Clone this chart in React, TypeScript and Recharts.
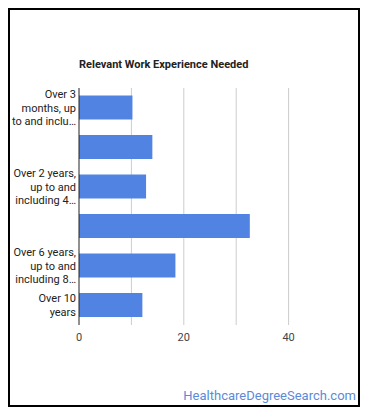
import React from "react";
import { BarChart, Bar, XAxis, YAxis, CartesianGrid } from "recharts";

const categories = [
  "Over 3 months, up to and including 6 months",
  "Over 1 year, up to and including 2 years",
  "Over 2 years, up to and including 4 years",
  "Over 4 years, up to and including 6 years",
  "Over 6 years, up to and including 8 years",
  "Over 10 years",
];
const values = [10.2, 14.0, 12.8, 32.6, 18.4, 12.1];
const tickLines: string[][] = [
  ["Over 3", "months, up", "to and inclu…"],
  [],
  ["Over 2 years,", "up to and", "including 4…"],
  [],
  ["Over 6 years,", "up to and", "including 8…"],
  ["Over 10", "years"],
];
const xTicks = [0, 10, 20, 30, 40];
const xMax = 50;
const gridValues = [10, 20, 30, 40];
const xTickLabels: Record<number, string> = { 0: "0", 20: "20", 40: "40" };
const title = "Relevant Work Experience Needed";
const watermark = "HealthcareDegreeSearch.com";

const data = categories.map((c, i) => ({ name: c, value: values[i], idx: i }));

const FONT = "Roboto, 'Noto Sans', Arial, sans-serif";

const YTick = (props: any) => {
  const { x, y, index } = props;
  const lines = tickLines[index] || [];
  const lh = 13.7;
  const start = y - ((lines.length - 1) * lh) / 2;
  return (
    <g>
      {lines.map((l, i) => (
        <text
          key={i}
          x={x - 1}
          y={start + i * lh}
          dy="0.35em"
          textAnchor="end"
          fontSize={11}
          fontFamily={FONT}
          fill="#222"
        >
          {l}
        </text>
      ))}
    </g>
  );
};

const gridGen = (p: any) => {
  const sc = p?.xAxis?.scale;
  if (typeof sc === "function") return gridValues.map((v) => sc(v));
  const off = p?.offset || {};
  const left = off.left ?? 69;
  const w = off.width ?? 262;
  return gridValues.map((v) => left + (v / xMax) * w);
};

export default function App() {
  return (
    <div
      style={{
        position: "relative",
        width: 352,
        height: 399,
        boxSizing: "border-box",
        border: "2px solid #000",
        background: "#fff",
      }}
    >
      <div
        style={{
          position: "absolute",
          left: 69,
          top: 48,
          fontFamily: FONT,
          fontWeight: "bold",
          fontSize: 11,
          color: "#222",
          whiteSpace: "nowrap",
          lineHeight: "14px",
        }}
      >
        {title}
      </div>
      <div style={{ position: "absolute", left: 0, top: 0 }}>
        <BarChart
          width={348}
          height={395}
          data={data}
          layout="vertical"
          margin={{ top: 78, right: 17, bottom: 50, left: 0 }}
          barCategoryGap="19%"
        >
          <CartesianGrid
            horizontal={false}
            stroke="#ccc"
            verticalCoordinatesGenerator={gridGen}
          />
          <XAxis
            type="number"
            domain={[0, xMax]}
            ticks={xTicks}
            tickFormatter={(v: number) => xTickLabels[v] ?? ""}
            axisLine={false}
            tickLine={false}
            height={30}
            tick={{ fontSize: 11, fontFamily: FONT, fill: "#444" }}
          />
          <YAxis
            type="category"
            dataKey="name"
            width={69}
            tickLine={false}
            axisLine={{ stroke: "#222", strokeWidth: 1 }}
            tick={<YTick />}
            tickSize={0}
            tickMargin={2}
            interval={0}
          />
          <Bar dataKey="value" fill="#5183e2" isAnimationActive={false} />
        </BarChart>
      </div>
      <div
        style={{
          position: "absolute",
          right: 2,
          top: 378,
          fontFamily: FONT,
          fontSize: 13,
          color: "#5b8bd8",
          whiteSpace: "nowrap",
          lineHeight: "16px",
        }}
      >
        {watermark}
      </div>
    </div>
  );
}
